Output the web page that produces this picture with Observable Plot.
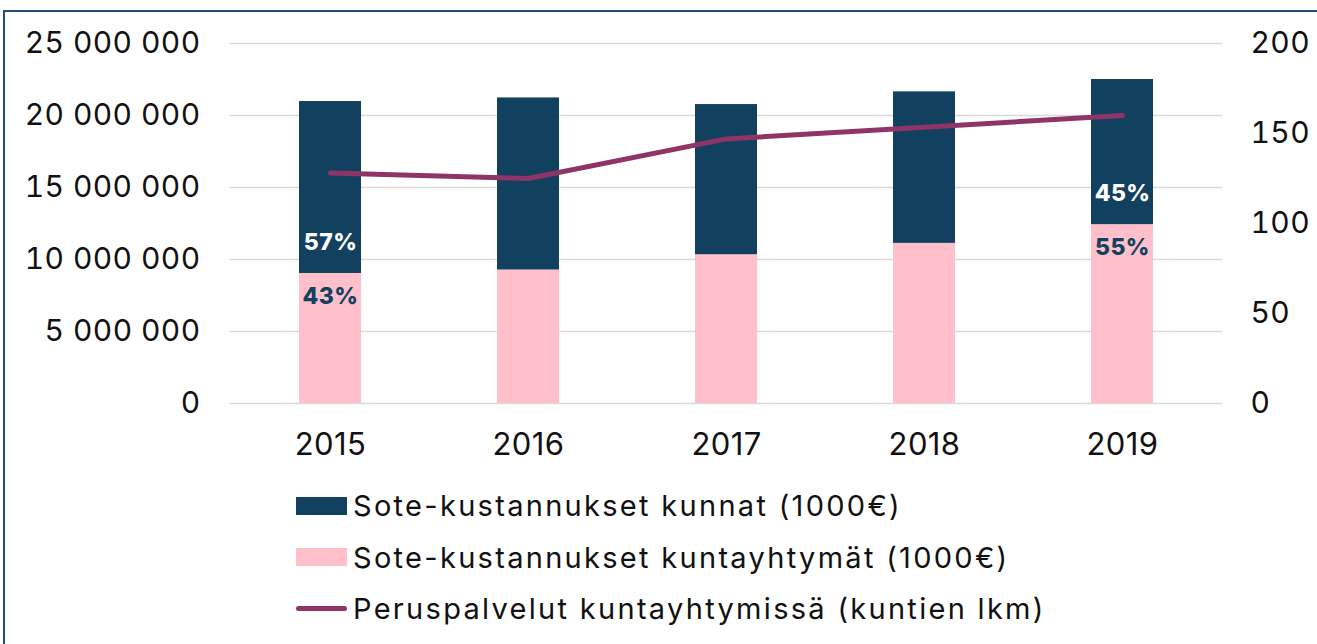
<!DOCTYPE html>
<html><head><meta charset="utf-8">
<script src="https://cdn.jsdelivr.net/npm/d3@7"></script>
<script src="https://cdn.jsdelivr.net/npm/@observablehq/plot@0.6"></script>
<style>
html,body{margin:0;padding:0;background:#fff;}
body{width:1317px;height:644px;overflow:hidden;position:relative;font-family:Inter, "DejaVu Sans", sans-serif;}
#frame{position:absolute;left:3px;top:10px;width:1330px;height:650px;border:2px solid #1f4e79;box-sizing:border-box;}
#chart{position:absolute;left:0;top:0;}
#legend{position:absolute;left:296px;top:480px;}
.row{display:flex;align-items:center;height:51.5px;font-size:29px;letter-spacing:2.3px;color:#111;white-space:nowrap;}
.sw{width:51px;height:18px;margin-right:6px;flex:none;}
.ln{width:51px;height:5px;border-radius:3px;margin-right:6px;flex:none;}
svg text{letter-spacing:0.4px;}
</style></head><body>
<div id="frame"></div><div id="chart"></div><div id="legend"></div>
<script>
const years = ["2015", "2016", "2017", "2018", "2019"];
const kunnat = [11940000, 11950000, 10430000, 10520000, 10080000];
const kuntayhtymat = [9030000, 9270000, 10330000, 11120000, 12420000];
const kuntienLkm = [128, 125, 147, 153.5, 160];
const shareKunnat = ["57%", "", "", "", "45%"];
const shareKuntayhtymat = ["43%", "", "", "", "55%"];
const leftTicks = [0, 5000000, 10000000, 15000000, 20000000, 25000000];
const rightTicks = [0, 50, 100, 150, 200];
const seriesNames = ["Sote-kustannukset kunnat (1000€)", "Sote-kustannukset kuntayhtymät (1000€)", "Peruspalvelut kuntayhtymissä (kuntien lkm)"];
const colors = ["#12405f", "#ffc0cb", "#8f3466"];

const ratio = 25000000 / 200;
const font = "Inter, 'DejaVu Sans', sans-serif";
const fmt = d => d3.format(",")(d).replace(/,/g, " ");

const barRows = [
  ...years.map((y, i) => ({year: y, series: seriesNames[1], value: kuntayhtymat[i]})),
  ...years.map((y, i) => ({year: y, series: seriesNames[0], value: kunnat[i]}))
];
const lineRows = years.map((y, i) => ({year: y, value: kuntienLkm[i] * ratio}));
const labelRows = years.map((y, i) => ({year: y, base: kuntayhtymat[i], top: shareKunnat[i], bottom: shareKuntayhtymat[i]})).filter(d => d.top);

const chart = Plot.plot({
  width: 1317,
  height: 470,
  marginLeft: 230,
  marginRight: 95,
  marginTop: 43,
  marginBottom: 67,
  style: {fontFamily: font, fontSize: "30px", color: "#111", background: "transparent"},
  x: {domain: years, paddingInner: 0.6875, paddingOuter: 0.34375, label: null},
  y: {domain: [0, 25000000], label: null},
  color: {domain: seriesNames.slice(0, 2), range: colors.slice(0, 2)},
  marks: [
    Plot.gridY(leftTicks, {stroke: "#d9d9d9", strokeOpacity: 1, strokeWidth: 1.5}),
    Plot.barY(barRows, {x: "year", y: "value", fill: "series", order: null}),
    Plot.line(lineRows, {x: "year", y: "value", stroke: colors[2], strokeWidth: 5, strokeLinecap: "round", strokeLinejoin: "round"}),
    Plot.text(labelRows, {x: "year", y: "base", text: "top", dy: -31, fill: "#fff", fontWeight: 800, fontSize: 23}),
    Plot.text(labelRows, {x: "year", y: "base", text: "bottom", dy: 23, fill: colors[0], fontWeight: 800, fontSize: 23}),
    Plot.axisY(leftTicks, {anchor: "left", tickSize: 0, tickPadding: 30, tickFormat: fmt, fontSize: 30, label: null}),
    Plot.axisY(rightTicks.map(t => t * ratio), {anchor: "right", tickSize: 0, tickPadding: 28, tickFormat: d => d / ratio, fontSize: 30, label: null}),
    Plot.axisX({tickSize: 0, tickPadding: 29, fontSize: 31, label: null})
  ]
});
document.getElementById("chart").appendChild(chart);

const legend = document.getElementById("legend");
seriesNames.forEach((name, i) => {
  const row = document.createElement("div");
  row.className = "row";
  const sw = document.createElement("div");
  sw.className = i < 2 ? "sw" : "ln";
  sw.style.background = colors[i];
  const t = document.createElement("span");
  t.textContent = name;
  row.appendChild(sw); row.appendChild(t);
  legend.appendChild(row);
});
</script>
</body></html>
